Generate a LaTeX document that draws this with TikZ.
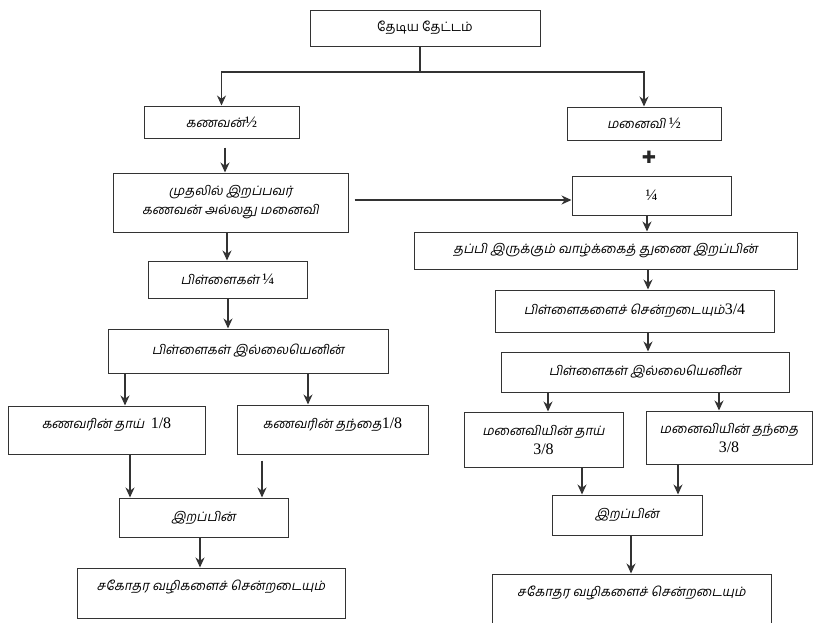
\documentclass[tikz,border=0pt]{standalone}
\usepackage{fontspec}
\setmainfont{Liberation Serif}
\newfontfamily\tamil[Script=Tamil,FakeSlant=0.2]{Hind Madurai}
\newfontfamily\tamilup[Script=Tamil]{Hind Madurai}
\newfontfamily\symb{DejaVu Sans}
\newcommand{\Num}[1]{{\fontsize{16}{18}\selectfont\rmfamily #1}}
\usetikzlibrary{arrows.meta}

\begin{document}
\begin{tikzpicture}[x=1pt,y=-1pt]

              % Definitions
              \tikzstyle{Box} = [rectangle, draw=black!80, line width=1pt, inner sep=2pt, align=center, font=\fontsize{13}{19}\selectfont\tamil]
              \tikzstyle{Link} = [line width=1.2pt, draw=black!80]
              \tikzstyle{arrow} = [Link, ->, >={Stealth[length=10pt,width=9pt]}]

              \useasboundingbox (0,0) rectangle (817,622);

              \node (Top) [Box, minimum width=230, minimum height=36, font=\fontsize{13}{19}\selectfont\tamilup] at (425,28) {தேடிய தேட்டம்};

              \node (Hus) [Box, minimum width=155, minimum height=32] at (221.5,122) {கணவன்\Num{½}};
              \node (First) [Box, minimum width=235, minimum height=59] at (230.5,202.5) {முதலில் இறப்பவர்\\கணவன் அல்லது மனைவி};
              \node (ChildL) [Box, minimum width=159, minimum height=37] at (227.5,279.5) {பிள்ளைகள் \Num{¼}};
              \node (NoChildL) [Box, minimum width=280, minimum height=44] at (248,351) {பிள்ளைகள் இல்லையெனின்};
              \node (HusMom) [Box, minimum width=197, minimum height=48, text height=10pt, text depth=13pt] at (106.5,430) {கணவரின் தாய்~~\Num{1/8}};
              \node (HusDad) [Box, minimum width=191, minimum height=49, text height=10pt, text depth=13pt] at (332.5,429.5) {கணவரின் தந்தை\Num{1/8}};
              \node (DeathL) [Box, minimum width=169, minimum height=39] at (203.5,517.5) {இறப்பின்};
              \node (SibL) [Box, minimum width=268, minimum height=50, text height=10pt, text depth=15pt] at (211,593) {சகோதர வழிகளைச் சென்றடையும்};

              \node (Wife) [Box, minimum width=154, minimum height=33] at (644,123.5) {மனைவி \Num{½}};
              \node (Plus) [font=\fontsize{17}{17}\selectfont\symb, text=black!85] at (649,157) {✚};
              \node (Quarter) [Box, minimum width=159, minimum height=39] at (651.5,195.5) {\Num{¼}};
              \node (Survivor) [Box, minimum width=383, minimum height=37] at (605.5,250.5) {தப்பி இருக்கும் வாழ்க்கைத் துணை இறப்பின்};
              \node (ChildR) [Box, minimum width=279, minimum height=42] at (634.5,311) {பிள்ளைகளைச் சென்றடையும்\Num{3/4}};
              \node (NoChildR) [Box, minimum width=288, minimum height=40] at (645,372) {பிள்ளைகள் இல்லையெனின்};
              \node (WifeMom) [Box, minimum width=159, minimum height=55] at (543.5,439.5) {மனைவியின் தாய்\\\Num{3/8}};
              \node (WifeDad) [Box, minimum width=166, minimum height=53] at (729,437.5) {மனைவியின் தந்தை\\\Num{3/8}};
              \node (DeathR) [Box, minimum width=150, minimum height=40] at (627,515) {இறப்பின்};
              \node (SibR) [Box, minimum width=279, minimum height=58, text height=10pt, text depth=23pt] at (631.5,603) {சகோதர வழிகளைச் சென்றடையும்};

              \coordinate (Split) at (420,72);
              \draw [Link] (Top.south -| Split) -- (Split);
              \draw [arrow] (Split) -| (Hus.north);
              \draw [arrow] (Split) -| (Wife.north);

              \draw [arrow, shorten <=9pt] (Hus.south -| 225,0) -- (First.north -| 225,0);
              \draw [arrow, shorten <=6pt] (First.east |- 0,200) -- (Quarter.west |- 0,200);
              \draw [arrow] (First.south -| 227,0) -- (ChildL.north -| 227,0);
              \draw [arrow] (ChildL.south -| 228,0) -- (NoChildL.north -| 228,0);
              \draw [arrow] (NoChildL.south -| 125,0) -- (HusMom.north -| 125,0);
              \draw [arrow] (NoChildL.south -| 308,0) -- (HusDad.north -| 308,0);
              \draw [arrow] (HusMom.south -| 130,0) -- (DeathL.north -| 130,0);
              \draw [arrow, shorten <=6pt] (HusDad.south -| 262,0) -- (DeathL.north -| 262,0);
              \draw [arrow] (DeathL.south -| 200,0) -- (SibL.north -| 200,0);

              \draw [arrow] (Quarter.south -| 647,0) -- (Survivor.north -| 647,0);
              \draw [arrow] (Survivor.south -| 648,0) -- (ChildR.north -| 648,0);
              \draw [arrow] (ChildR.south -| 648,0) -- (NoChildR.north -| 648,0);
              \draw [arrow] (NoChildR.south -| 548,0) -- (WifeMom.north -| 548,0);
              \draw [arrow] (NoChildR.south -| 719,0) -- (WifeDad.north -| 719,0);
              \draw [arrow] (WifeMom.south -| 582,0) -- (DeathR.north -| 582,0);
              \draw [arrow] (WifeDad.south -| 678,0) -- (DeathR.north -| 678,0);
              \draw [arrow] (DeathR.south -| 631,0) -- (SibR.north -| 631,0);

\end{tikzpicture}
\end{document}
